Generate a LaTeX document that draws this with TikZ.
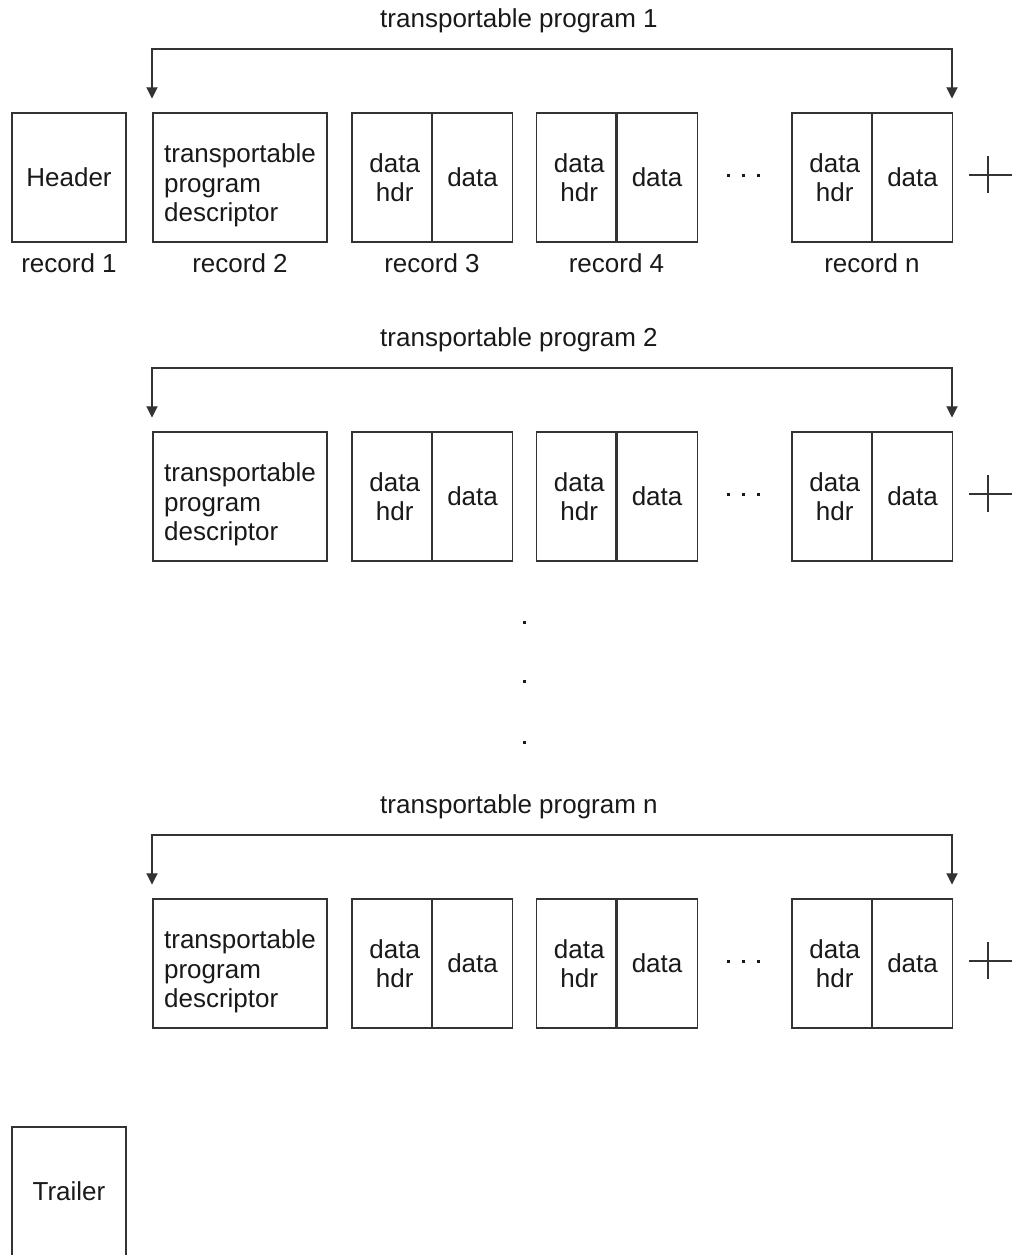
\documentclass[tikz,border=0pt]{standalone}
\usepackage{fontspec}
\setmainfont{Liberation Sans}
\usetikzlibrary{arrows.meta}
\newcommand\pxu{0.02cm}
\definecolor{linec}{gray}{0.2}
\tikzset{
  recbox/.style={draw=linec, line width=0.6pt, inner sep=0pt,
    minimum height=129*\pxu, font=\fontsize{14.8pt}{16.7pt}\selectfont,
    align=center, text=black!90},
  lbl/.style={inner sep=0pt, anchor=base,
    font=\fontsize{14.8pt}{16.7pt}\selectfont, text=black!90},
  conn/.style={draw=linec, line width=0.6pt,
    {Triangle[length=6.4pt,width=6.4pt]}-{Triangle[length=6.4pt,width=6.4pt]}},
  thin/.style={draw=linec, line width=0.6pt},
}
\begin{document}
\begin{tikzpicture}[x=0.02cm, y=-0.02cm]
\useasboundingbox (0,0) rectangle (1023,1255);
\clip (0,0) rectangle (1023,1255);

% file header record
\node[recbox, minimum width=114*\pxu] (hdr) at (69,177.5) {Header};
\node[lbl] (hdrlab) at (69,272) {record 1};

% one block per transportable program
\foreach \r/\dy/\t in {1/0/1, 2/319/2, 3/786/n}{
  \node[lbl] (ttl\r) at (519,{27+\dy}) {transportable program \t};
  % descriptor record
  \node[recbox, minimum width=174*\pxu, align=left] (tpd\r) at (240,{177.5+\dy})
    {\rule{0pt}{0.70cm}transportable\\program\\descriptor};
  % data records: header half + data half
  \node[recbox, minimum width=79.5*\pxu] (ah\r) at (391.75,{177.5+\dy}) {\hspace*{0.12cm}data\\\hspace*{0.12cm}hdr};
  \node[recbox, minimum width=80*\pxu, anchor=west] (ad\r) at (ah\r.east) {data};
  \node[recbox, minimum width=79.5*\pxu] (bh\r) at (576.25,{177.5+\dy}) {\hspace*{0.12cm}data\\\hspace*{0.12cm}hdr};
  \node[recbox, minimum width=80*\pxu, anchor=west] (bd\r) at (bh\r.east) {data};
  \node[recbox, minimum width=79.5*\pxu] (nh\r) at (831.75,{177.5+\dy}) {\hspace*{0.12cm}data\\\hspace*{0.12cm}hdr};
  \node[recbox, minimum width=80*\pxu, anchor=west] (nd\r) at (nh\r.east) {data};
  % ellipsis between records
  \foreach \xx in {728,743,758}{
    \fill[black!90] (\xx-1.5,{175+\dy-1.5}) rectangle (\xx+1.5,{175+\dy+1.5});
  }
  % bracket spanning the program's records
  \coordinate (lt\r) at (152,{49+\dy});
  \coordinate (rt\r) at (952,{49+\dy});
  \coordinate (ltip\r) at (152,{98.5+\dy});
  \coordinate (rtip\r) at (952,{98.5+\dy});
  \draw[conn] (ltip\r) -- (lt\r) -- (rt\r) -- (rtip\r);
  % continuation mark
  \draw[thin] (969,{175+\dy}) -- (1012,{175+\dy});
  \draw[thin] (988,{156+\dy}) -- (988,{193+\dy});
}

% record labels of the first program
\node[lbl] (lab2) at (tpd1.center |- hdrlab.base) {record 2};
\node[lbl] (lab3) at (ah1.east |- hdrlab.base) {record 3};
\node[lbl] (lab4) at (bh1.east |- hdrlab.base) {record 4};
\node[lbl] (labn) at (nh1.east |- hdrlab.base) {record n};

% vertical ellipsis between programs
\foreach \yy in {622,681,742}{
  \fill[black!90] (522.5,\yy-1.5) rectangle (525.5,\yy+1.5);
}

% trailer record
\node[recbox, minimum width=114*\pxu] (trl) at (69,1191.5) {Trailer};
\end{tikzpicture}
\end{document}
